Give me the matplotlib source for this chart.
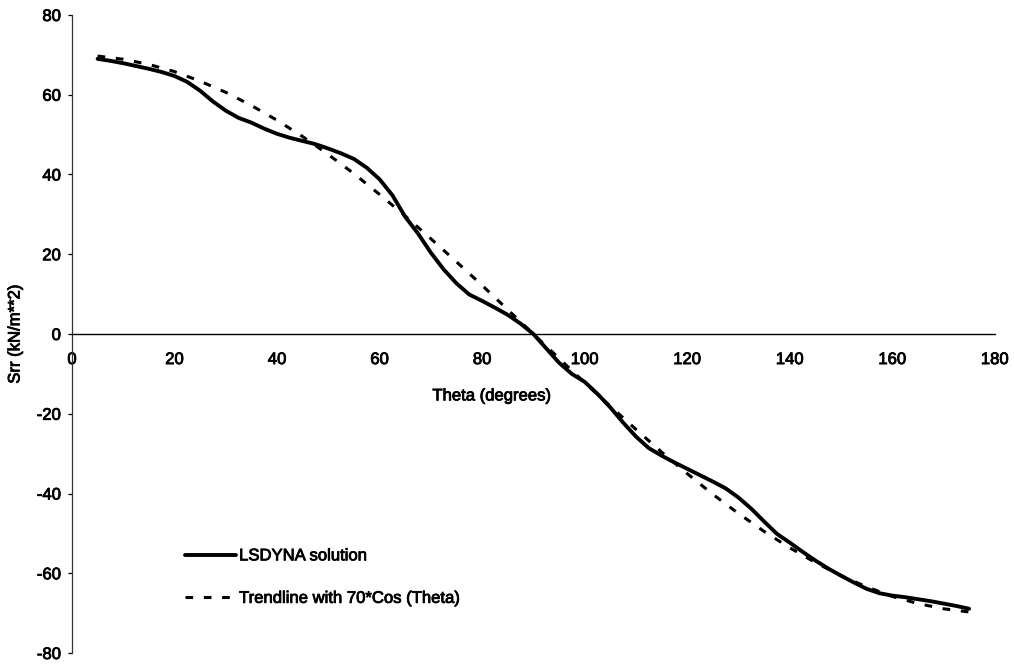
import matplotlib
matplotlib.use("Agg")
import matplotlib.pyplot as plt
import matplotlib.patheffects as pe

plt.rcParams["font.family"] = ["Liberation Sans", "DejaVu Sans"]
plt.rcParams["axes.unicode_minus"] = False

# values
theta = [5, 7.5, 10, 12.5, 15, 17.5, 20, 22.5, 25, 27.5, 30, 32.5, 35, 37.5, 40, 42.5,
         45, 47.5, 50, 52.5, 55, 57.5, 60, 62.5, 65, 67.5, 70, 72.5, 75, 77.5, 80, 82.5,
         85, 87.5, 90, 92.5, 95, 97.5, 100, 102.5, 105, 107.5, 110, 112.5, 115, 117.5,
         120, 122.5, 125, 127.5, 130, 132.5, 135, 137.5, 140, 142.5, 145, 147.5, 150,
         152.5, 155, 157.5, 160, 162.5, 165, 167.5, 170, 172.5, 175]
srr_lsdyna = [69.0, 68.5, 67.9, 67.2, 66.5, 65.7, 64.7, 63.2, 61.0, 58.3, 56.0, 54.2,
              53.0, 51.5, 50.2, 49.2, 48.4, 47.6, 46.5, 45.3, 43.9, 41.7, 38.8, 34.8,
              29.4, 25.2, 20.4, 16.2, 12.7, 9.9, 8.3, 6.6, 4.8, 2.6, 0.0, -3.6, -7.2,
              -10.0, -12.0, -15.0, -18.4, -22.2, -25.7, -28.6, -30.5, -32.2, -33.8,
              -35.4, -37.0, -38.7, -41.0, -43.8, -47.0, -50.1, -52.3, -54.6, -56.8,
              -58.8, -60.6, -62.3, -63.9, -65.0, -65.6, -66.0, -66.5, -67.0, -67.6,
              -68.2, -68.9]

theta_trend = [5, 10, 15, 20, 25, 30, 35, 40, 45, 50, 55, 60, 65, 70, 75, 80, 85, 90,
               95, 100, 105, 110, 115, 120, 125, 130, 135, 140, 145, 150, 155, 160,
               165, 170, 175]
srr_trend = [69.7, 68.9, 67.6, 65.8, 63.4, 60.6, 57.3, 53.6, 49.5, 45.0, 40.2, 35.0,
             29.6, 23.9, 18.1, 12.2, 6.1, 0.0, -6.1, -12.2, -18.1, -23.9, -29.6,
             -35.0, -40.2, -45.0, -49.5, -53.6, -57.3, -60.6, -63.4, -65.8, -67.6,
             -68.9, -69.7]
x_ticks = [0, 20, 40, 60, 80, 100, 120, 140, 160, 180]
y_ticks = [-80, -60, -40, -20, 0, 20, 40, 60, 80]

# thicken text a little, like the scanned original
bold_fx = [pe.withStroke(linewidth=0.6, foreground="black")]

fig = plt.figure(figsize=(10.14, 6.66), dpi=100)
ax = fig.add_axes([0.071, 0.0195, 0.910, 0.958])

ax.plot(theta, srr_lsdyna, color="black", linewidth=2.8, label="LSDYNA solution",
        solid_capstyle="round", solid_joinstyle="round", zorder=3)
ax.plot(theta_trend, srr_trend, color="black", linewidth=2.2, linestyle=(0, (2.5, 3.5)),
        label="Trendline with 70*Cos (Theta)", zorder=2)

ax.set_xlim(0, 180)
ax.set_ylim(-80, 80)
ax.set_xticks(x_ticks)
ax.set_yticks(y_ticks)

ax.spines["top"].set_visible(False)
ax.spines["right"].set_visible(False)
ax.spines["bottom"].set_position(("data", 0))
ax.spines["bottom"].set_linewidth(1.0)
ax.spines["left"].set_linewidth(0.9)
ax.spines["left"].set_color("#333333")

ax.tick_params(axis="x", length=0, pad=13, labelsize=12)
ax.tick_params(axis="y", direction="out", length=3, width=0.9, pad=5, labelsize=12)
for lbl in ax.get_xticklabels() + ax.get_yticklabels():
    lbl.set_path_effects(bold_fx)

ax.text(0.455, 0.403, "Theta (degrees)", transform=ax.transAxes, fontsize=12,
        ha="center", va="center", path_effects=bold_fx)
fig.text(15 / 1014, 1 - 334 / 666, "Srr (kN/m**2)", rotation=90, fontsize=12,
         ha="center", va="center", path_effects=bold_fx)

leg = ax.legend(loc="center left", bbox_to_anchor=(0.1224, 0.119), frameon=False,
                fontsize=12, handlelength=3.05, handletextpad=0.2, labelspacing=1.65,
                borderpad=0, borderaxespad=0)
for t in leg.get_texts():
    t.set_path_effects(bold_fx)

fig.savefig("out.png", dpi=100)
